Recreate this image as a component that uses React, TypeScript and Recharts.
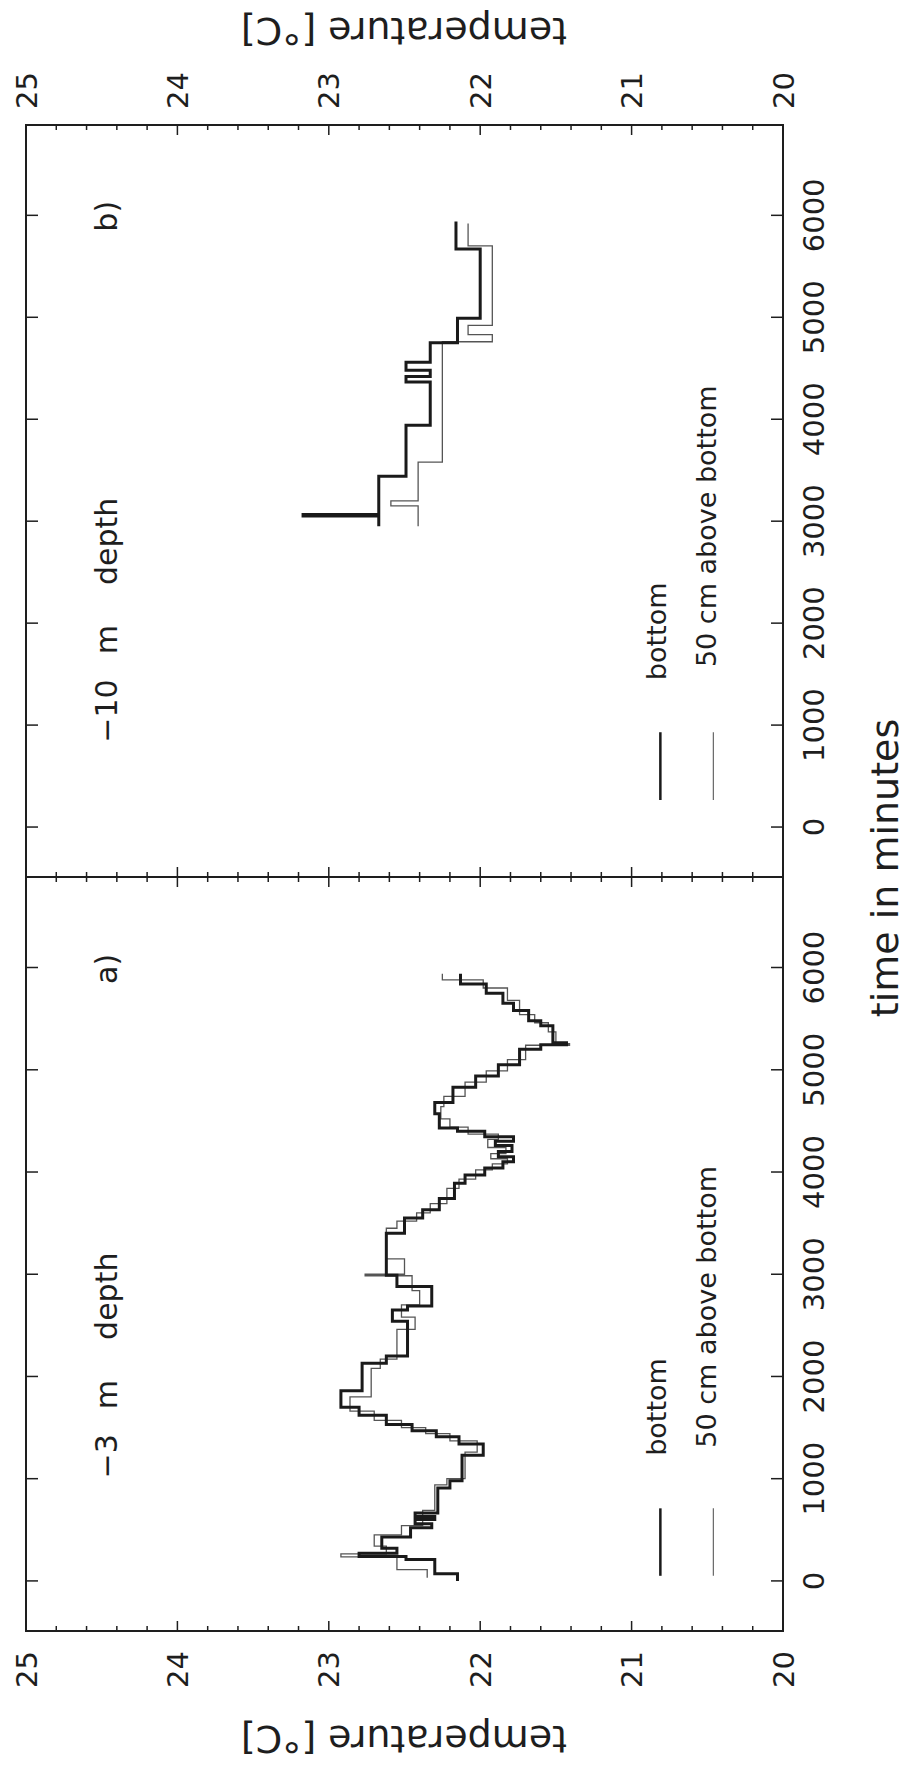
import React from 'react';
import { LineChart, Line, XAxis, YAxis, ReferenceLine, ReferenceArea } from 'recharts';

// ---------- data ----------
const timeTicks = [0, 1000, 2000, 3000, 4000, 5000, 6000];
const tempMajorTicks = [20, 21, 22, 23, 24, 25];
const tempTicks = [20, 20.2, 20.4, 20.6, 20.8, 21, 21.2, 21.4, 21.6, 21.8, 22, 22.2, 22.4, 22.6, 22.8, 23, 23.2, 23.4, 23.6, 23.8, 24, 24.2, 24.4, 24.6, 24.8, 25];
const timeDomain: [number, number] = [-490, 6886];
const tempDomain: [number, number] = [20, 25];

// panel a) -3 m depth : [time in minutes, temperature]
const bottomA: [number, number][] = [
  [0, 22.15], [70, 22.3], [210, 22.49], [240, 22.8], [270, 22.55], [320, 22.65], [430, 22.46],
  [520, 22.32], [560, 22.43], [600, 22.3], [630, 22.43], [665, 22.28], [910, 22.2], [980, 22.12],
  [1230, 21.98], [1340, 22.14], [1410, 22.29], [1470, 22.45], [1530, 22.62], [1620, 22.8],
  [1700, 22.92], [1860, 22.78], [2130, 22.62], [2200, 22.48], [2540, 22.58], [2650, 22.48],
  [2690, 22.32], [2880, 22.55], [2990, 22.62], [3400, 22.5], [3550, 22.38], [3630, 22.27],
  [3740, 22.17], [3890, 22.1], [3970, 21.97], [4040, 21.85], [4100, 21.78], [4150, 21.88],
  [4200, 21.79], [4260, 21.9], [4300, 21.78], [4345, 21.97], [4400, 22.15], [4430, 22.27],
  [4570, 22.3], [4680, 22.18], [4830, 22.03], [4940, 21.88], [5050, 21.74], [5200, 21.6],
  [5245, 21.43], [5265, 21.52], [5430, 21.6], [5480, 21.68], [5580, 21.78], [5650, 21.85],
  [5750, 21.96], [5840, 22.13], [5940, 22.13],
];
const aboveA: [number, number][] = [
  [30, 22.35], [110, 22.55], [235, 22.92], [265, 22.62], [340, 22.7], [450, 22.52], [540, 22.38],
  [690, 22.3], [940, 22.22], [1000, 22.1], [1260, 22.02], [1370, 22.2], [1440, 22.36],
  [1500, 22.52], [1570, 22.7], [1660, 22.86], [1800, 22.72], [2080, 22.66], [2170, 22.55],
  [2460, 22.43], [2580, 22.52], [2700, 22.4], [2840, 22.45], [2985, 22.76], [3000, 22.5],
  [3150, 22.62], [3450, 22.55], [3520, 22.42], [3600, 22.33], [3690, 22.22], [3840, 22.14],
  [3930, 22.03], [4020, 21.92], [4080, 21.82], [4130, 21.93], [4180, 21.83], [4240, 21.95],
  [4320, 21.88], [4370, 22.08], [4440, 22.2], [4520, 22.26], [4640, 22.24], [4740, 22.1],
  [4880, 21.96], [4990, 21.82], [5100, 21.7], [5240, 21.41], [5255, 21.5], [5370, 21.55],
  [5460, 21.64], [5540, 21.74], [5680, 21.82], [5800, 21.98], [5880, 22.25], [5940, 22.25],
];

// panel b) -10 m depth
const bottomB: [number, number][] = [
  [2950, 22.67], [3050, 23.17], [3065, 22.67], [3440, 22.49], [3940, 22.33], [4365, 22.49],
  [4420, 22.33], [4480, 22.49], [4560, 22.33], [4750, 22.15], [4990, 22.0], [5670, 22.16],
  [5940, 22.16],
];
const aboveB: [number, number][] = [
  [2950, 22.41], [3150, 22.59], [3200, 22.41], [3580, 22.25], [4760, 21.92], [4830, 22.08],
  [4920, 21.92], [5700, 22.08], [5920, 22.08],
];

// legend entries
const legendLabels = ['bottom', '50 cm above bottom'];
const legendTemps = [20.81, 20.46];
const legendSpanA = [50, 710];
const legendSpanB = [265, 930];
const legendTextTimeA = [1224, 1303];
const legendTextTimeB = [1441, 1569];

const toPts = (arr: [number, number][]) => arr.map(([t, T]) => ({ t, T }));

// ---------- layout ----------
const W = 1768;
const H = 912;
const PLOT_TOP = 26;
const PLOT_BOTTOM = 783;
const A_LEFT = 137;
const MID = 891;
const B_RIGHT = 1643;
const FONT = '"DejaVu Sans", "Liberation Sans", sans-serif';
const INK = '#1e1e1e';

const xA = (t: number) => A_LEFT + ((t - timeDomain[0]) / (timeDomain[1] - timeDomain[0])) * (MID - A_LEFT);
const xB = (t: number) => MID + ((t - timeDomain[0]) / (timeDomain[1] - timeDomain[0])) * (B_RIGHT - MID);
const yT = (T: number) => PLOT_TOP + ((tempDomain[1] - T) / (tempDomain[1] - tempDomain[0])) * (PLOT_BOTTOM - PLOT_TOP);

const isMajor = (v: number) => tempMajorTicks.some((m) => Math.abs(m - v) < 1e-6);

const timeBottomTick = (p: any) => (
  <g>
    <line x1={p.x} y1={p.y} x2={p.x} y2={p.y - 12} stroke={INK} strokeWidth={1.5} />
    <text x={p.x} y={p.y + 41} textAnchor="middle" fontSize={29} fontFamily={FONT} fill={INK}>
      {p.payload.value}
    </text>
  </g>
);
const timeTopTick = (p: any) => (
  <g>
    <line x1={p.x} y1={p.y} x2={p.x} y2={p.y + 12} stroke={INK} strokeWidth={1.5} />
  </g>
);
const tempTick = (side: 'left' | 'right', labelled: boolean) => (p: any) => {
  const v = p.payload.value;
  const len = isMajor(v) ? 10 : 5;
  const dir = side === 'left' ? 1 : -1;
  return (
    <g>
      <line x1={p.x} y1={p.y} x2={p.x + dir * len} y2={p.y} stroke={INK} strokeWidth={1.5} />
      {labelled && isMajor(v) ? (
        <text
          x={side === 'left' ? p.x - 20 : p.x + 16}
          y={p.y + 10.5}
          textAnchor={side === 'left' ? 'end' : 'start'}
          fontSize={29}
          fontFamily={FONT}
          fill={INK}
        >
          {Math.round(v)}
        </text>
      ) : null}
    </g>
  );
};

const axisLine = { stroke: INK, strokeWidth: 2 };

function Panel(props: {
  width: number;
  margin: any;
  leftWidth: number;
  rightWidth: number;
  leftLabels: boolean;
  rightLabels: boolean;
  bottom: [number, number][];
  above: [number, number][];
  legendSpan: number[];
}) {
  return (
    <LineChart width={props.width} height={H} margin={props.margin}>
      <XAxis
        xAxisId="b"
        dataKey="t"
        type="number"
        domain={timeDomain}
        ticks={timeTicks}
        interval={0}
        allowDataOverflow
        height={40}
        tickSize={0}
        tickMargin={0}
        tickLine={false}
        axisLine={axisLine}
        tick={timeBottomTick}
      />
      <XAxis
        xAxisId="t"
        orientation="top"
        dataKey="t"
        type="number"
        domain={timeDomain}
        ticks={timeTicks}
        interval={0}
        allowDataOverflow
        height={1}
        tickSize={0}
        tickMargin={0}
        tickLine={false}
        axisLine={axisLine}
        tick={timeTopTick}
      />
      <YAxis
        yAxisId="l"
        type="number"
        domain={tempDomain}
        ticks={tempTicks}
        interval={0}
        allowDataOverflow
        width={props.leftWidth}
        tickSize={0}
        tickMargin={0}
        tickLine={false}
        axisLine={axisLine}
        tick={tempTick('left', props.leftLabels)}
      />
      <YAxis
        yAxisId="r"
        orientation="right"
        type="number"
        domain={tempDomain}
        ticks={tempTicks}
        interval={0}
        allowDataOverflow
        width={props.rightWidth}
        tickSize={0}
        tickMargin={0}
        tickLine={false}
        axisLine={axisLine}
        tick={tempTick('right', props.rightLabels)}
      />
      <ReferenceArea
        xAxisId="b"
        yAxisId="l"
        x1={timeDomain[0]}
        x2={timeDomain[1]}
        y1={tempDomain[0]}
        y2={tempDomain[1]}
        fill="none"
        fillOpacity={0}
        stroke={INK}
        strokeWidth={2}
        strokeOpacity={1}
        ifOverflow="visible"
      />
      <Line
        xAxisId="b"
        yAxisId="l"
        data={toPts(props.above)}
        dataKey="T"
        type="stepAfter"
        stroke="#555"
        strokeWidth={1.3}
        dot={false}
        isAnimationActive={false}
      />
      <Line
        xAxisId="b"
        yAxisId="l"
        data={toPts(props.bottom)}
        dataKey="T"
        type="stepAfter"
        stroke="#1a1a1a"
        strokeWidth={3}
        dot={false}
        isAnimationActive={false}
      />
      <ReferenceLine
        xAxisId="b"
        yAxisId="l"
        segment={[{ x: props.legendSpan[0], y: legendTemps[0] }, { x: props.legendSpan[1], y: legendTemps[0] }]}
        stroke="#1a1a1a"
        strokeWidth={2.5}
        ifOverflow="visible"
      />
      <ReferenceLine
        xAxisId="b"
        yAxisId="l"
        segment={[{ x: props.legendSpan[0], y: legendTemps[1] }, { x: props.legendSpan[1], y: legendTemps[1] }]}
        stroke="#666"
        strokeWidth={1.2}
        ifOverflow="visible"
      />
    </LineChart>
  );
}

export default function App() {
  const txt = { fontFamily: FONT, fill: INK } as const;
  return (
    <div style={{ position: 'absolute', left: 0, top: 0, width: 912, height: 1768, overflow: 'hidden', background: '#fff' }}>
      <div
        style={{
          position: 'absolute',
          left: 0,
          top: 0,
          width: W,
          height: H,
          transformOrigin: '0 0',
          transform: `translate(0px, ${W}px) rotate(-90deg)`,
        }}
      >
        <div style={{ position: 'absolute', left: 0, top: 0 }}>
          <Panel
            width={900}
            margin={{ top: PLOT_TOP - 1, right: 900 - MID - 1, bottom: H - PLOT_BOTTOM - 40, left: 0 }}
            leftWidth={A_LEFT}
            rightWidth={1}
            leftLabels={true}
            rightLabels={false}
            bottom={bottomA}
            above={aboveA}
            legendSpan={legendSpanA}
          />
        </div>
        <div style={{ position: 'absolute', left: 882, top: 0 }}>
          <Panel
            width={W - 882}
            margin={{ top: PLOT_TOP - 1, right: 0, bottom: H - PLOT_BOTTOM - 40, left: MID - 882 - 1 }}
            leftWidth={1}
            rightWidth={W - B_RIGHT}
            leftLabels={false}
            rightLabels={true}
            bottom={bottomB}
            above={aboveB}
            legendSpan={legendSpanB}
          />
        </div>
        <svg width={W} height={H} style={{ position: 'absolute', left: 0, top: 0, pointerEvents: 'none' }}>
          <text x={42} y={404} transform="rotate(-90 42 404)" textAnchor="middle" fontSize={38} {...txt}>
            temperature [°C]
          </text>
          <text x={1750} y={404} transform="rotate(-90 1750 404)" textAnchor="middle" fontSize={38} {...txt}>
            temperature [°C]
          </text>
          <text x={900} y={898} textAnchor="middle" fontSize={38} {...txt}>
            time in minutes
          </text>
          <text x={xA(5840)} y={117} fontSize={30} {...txt}>a)</text>
          <text x={xB(5840)} y={117} fontSize={30} {...txt}>b)</text>
          <text x={xA(3212)} y={117} textAnchor="end" fontSize={30} {...txt}>
            −3<tspan dx={25}>m</tspan><tspan dx={40}>depth</tspan>
          </text>
          <text x={xB(3230)} y={117} textAnchor="end" fontSize={30} {...txt}>
            −10<tspan dx={25}>m</tspan><tspan dx={40}>depth</tspan>
          </text>
          {legendLabels.map((lab, i) => (
            <text key={'la' + i} x={xA(legendTextTimeA[i])} y={yT(legendTemps[i]) + (i === 0 ? 6 : 3)} fontSize={27} {...txt}>
              {lab}
            </text>
          ))}
          {legendLabels.map((lab, i) => (
            <text key={'lb' + i} x={xB(legendTextTimeB[i])} y={yT(legendTemps[i]) + (i === 0 ? 6 : 3)} fontSize={27} {...txt}>
              {lab}
            </text>
          ))}
        </svg>
      </div>
    </div>
  );
}
